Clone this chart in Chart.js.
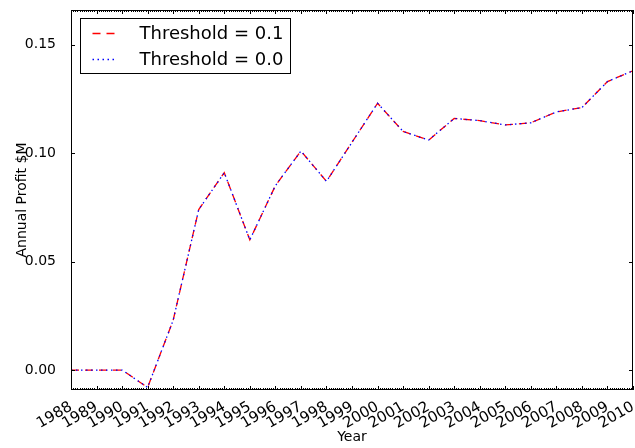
<!DOCTYPE html>
<html>
<head>
<meta charset="utf-8">
<script src="https://cdn.jsdelivr.net/npm/chart.js@4.4.1/dist/chart.umd.min.js"></script>
<style>
html,body{margin:0;padding:0;background:#fff;}
#wrap{width:635px;height:448px;position:relative;}
</style>
</head>
<body>
<div id="wrap"><canvas id="c" width="635" height="448"></canvas></div>
<script>
// ---- data ----
const years = [1988,1989,1990,1991,1992,1993,1994,1995,1996,1997,1998,1999,2000,2001,2002,2003,2004,2005,2006,2007,2008,2009,2010];
const profitT01 = [0,0,0,-0.008,0.023,0.074,0.091,0.060,0.085,0.101,0.087,0.105,0.123,0.110,0.106,0.116,0.115,0.113,0.114,0.119,0.121,0.133,0.138];
const profitT00 = [0,0,0,-0.008,0.023,0.074,0.091,0.060,0.085,0.101,0.087,0.105,0.123,0.110,0.106,0.116,0.115,0.113,0.114,0.119,0.121,0.133,0.138];
const seriesLabels = ['Threshold = 0.1', 'Threshold = 0.0'];
const seriesColors = ['#ff0000', '#0000ff'];
const yTickValues = [0, 0.05, 0.10, 0.15];
const xLabel = 'Year';
const yLabel = 'Annual Profit $M';

const FONT = 'DejaVu Sans';

const frameTicks = {
  id: 'frameTicks',
  afterDatasetsDraw(chart) {
    const {ctx, chartArea: a, scales: {x, y}} = chart;
    ctx.save();
    ctx.strokeStyle = '#000';
    ctx.lineWidth = 1;
    ctx.beginPath();
    for (let yr = x.min; yr <= x.max; yr++) {
      for (let m = 0; m < 12; m++) {
        const v = yr + m / 12;
        if (v > x.max) break;
        const px = Math.round(x.getPixelForValue(v)) + 0.5;
        const len = m === 0 ? 4 : 2;
        ctx.moveTo(px, a.bottom); ctx.lineTo(px, a.bottom - len);
        ctx.moveTo(px, a.top); ctx.lineTo(px, a.top + len);
      }
    }
    yTickValues.forEach(v => {
      const py = Math.round(y.getPixelForValue(v)) + 0.5;
      ctx.moveTo(a.left, py); ctx.lineTo(a.left + 4, py);
      ctx.moveTo(a.right, py); ctx.lineTo(a.right - 4, py);
    });
    ctx.stroke();
    ctx.strokeRect(Math.round(a.left) + 0.5, Math.round(a.top) + 0.5, Math.round(a.right - a.left) - 1, Math.round(a.bottom - a.top) - 1);
    ctx.restore();
  },
  afterDraw(chart) {
    const {ctx, chartArea: a} = chart;
    ctx.save();
    ctx.font = '18px "' + FONT + '"';
    const ds = chart.data.datasets;
    let tw = 0;
    ds.forEach(d => { tw = Math.max(tw, ctx.measureText(d.label).width); });
    const bx = Math.round(a.left) + 9.5, by = Math.round(a.top) + 8.5;
    const sampleX0 = bx + 12, sampleX1 = bx + 37, textX = bx + 59;
    const bw = Math.round(textX - bx + tw + 7), bh = 55;
    ctx.fillStyle = '#fff';
    ctx.fillRect(bx, by, bw, bh);
    ctx.strokeStyle = '#000';
    ctx.lineWidth = 1;
    ctx.strokeRect(bx, by, bw, bh);
    ds.forEach((d, i) => {
      const ry = Math.round(by + 14 + i * 26) + 0.5;
      ctx.strokeStyle = seriesColors[i];
      ctx.lineWidth = 1.5;
      ctx.setLineDash(d.borderDash);
      ctx.beginPath();
      ctx.moveTo(sampleX0, ry); ctx.lineTo(sampleX1, ry);
      ctx.stroke();
      ctx.setLineDash([]);
      ctx.fillStyle = '#000';
      ctx.textBaseline = 'middle';
      ctx.textAlign = 'left';
      ctx.fillText(d.label, textX, ry + 1);
    });
    ctx.restore();
  }
};

new Chart(document.getElementById('c'), {
  type: 'line',
  data: {
    datasets: [
      { label: seriesLabels[0], data: years.map((yr, i) => ({x: yr, y: profitT01[i]})),
        borderColor: seriesColors[0], borderWidth: 1.3, borderDash: [8, 6], pointRadius: 0, fill: false, tension: 0, order: 2 },
      { label: seriesLabels[1], data: years.map((yr, i) => ({x: yr, y: profitT00[i]})),
        borderColor: seriesColors[1], borderWidth: 1.3, borderDash: [1.5, 3.5], pointRadius: 0, fill: false, tension: 0, order: 1 }
    ]
  },
  options: {
    responsive: false,
    animation: false,
    devicePixelRatio: 1,
    layout: { padding: { top: 10, right: 2, left: 0, bottom: 0 } },
    plugins: { legend: { display: false }, tooltip: { enabled: false } },
    scales: {
      x: {
        type: 'linear',
        min: 1988, max: 2010,
        grid: { display: false },
        border: { display: false },
        ticks: {
          stepSize: 1,
          autoSkip: false,
          maxRotation: 30, minRotation: 30,
          padding: 0,
          color: '#000',
          font: { family: FONT, size: 15 },
          callback: v => String(v)
        },
        title: { display: true, text: xLabel, color: '#000', font: { family: FONT, size: 14 }, padding: { top: 0, bottom: 2 } },
        afterFit: s => { s.height = 58; s.paddingLeft = 0; s.paddingRight = 0; }
      },
      y: {
        min: -0.0092, max: 0.166,
        grid: { display: false },
        border: { display: false },
        afterBuildTicks: s => { s.ticks = yTickValues.map(v => ({value: v})); },
        ticks: {
          padding: 7,
          color: '#000',
          font: { family: FONT, size: 14 },
          callback: v => Number(v).toFixed(2)
        },
        title: { display: true, text: yLabel, color: '#000', font: { family: FONT, size: 14 }, padding: { top: 14, bottom: 0 } },
        afterFit: s => { s.width = 71; s.paddingTop = 0; s.paddingBottom = 0; }
      }
    }
  },
  plugins: [frameTicks]
});
</script>
</body>
</html>
